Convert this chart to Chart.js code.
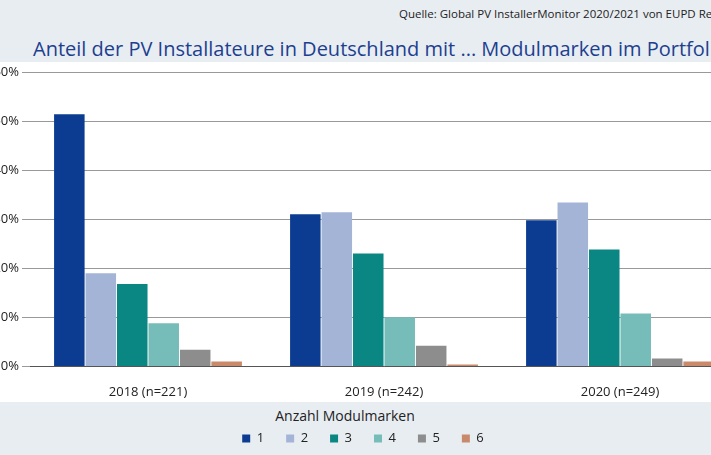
<!DOCTYPE html>
<html><head><meta charset="utf-8">
<script src="https://cdn.jsdelivr.net/npm/chart.js@4"></script>
<style>
body{margin:0;width:711px;height:455px;overflow:hidden;background:#e8edf2;font-family:"Open Sans",sans-serif;position:relative}
#src{position:absolute;top:6px;left:399px;white-space:nowrap;font-size:11.5px;color:#222}
#title{position:absolute;top:35px;left:33px;white-space:nowrap;font-size:20px;color:#1d3f8f}
#white{position:absolute;top:62px;left:0;width:711px;height:340px;background:#fff}
#lt{position:absolute;top:406px;left:0;width:690px;text-align:center;font-size:14px;color:#222}
#wrap{position:absolute;top:60px;left:-12px;width:750px;height:395px}
</style></head><body>
<div id="white"></div>
<div id="src">Quelle: Global PV InstallerMonitor 2020/2021 von EUPD Research</div>
<div id="title">Anteil der PV Installateure in Deutschland mit ... Modulmarken im Portfolio</div>
<div id="lt">Anzahl Modulmarken</div>
<div id="wrap"><canvas id="c"></canvas></div>
<script>
const categories=["2018 (n=221)","2019 (n=242)","2020 (n=249)"];
const seriesNames=["1","2","3","4","5","6"];
const s1=[51.4,31,29.8];
const s2=[19,31.4,33.4];
const s3=[16.8,23,23.8];
const s4=[8.8,10,10.8];
const s5=[3.4,4.2,1.6];
const s6=[1,0.4,1];
const colors=["#0b3c91","#a4b4d7","#0b8783","#76bdb9","#8d8d8d","#c98a6c"];
const vals=[s1,s2,s3,s4,s5,s6];
new Chart(document.getElementById('c'),{type:'bar',
data:{labels:categories,datasets:vals.map((d,i)=>({label:seriesNames[i],data:d,backgroundColor:colors[i],categoryPercentage:0.8,barPercentage:0.97}))},
options:{responsive:true,maintainAspectRatio:false,animation:false,
layout:{padding:{top:12,right:0,bottom:0}},
plugins:{tooltip:{enabled:false},
legend:{position:'bottom',
labels:{boxWidth:8,boxHeight:8,color:'#222',font:{size:13,family:'Open Sans'},padding:22}}},
scales:{x:{grid:{display:false},border:{color:'#555'},ticks:{padding:10,color:'#222',font:{size:13,family:'Open Sans'}}},
y:{min:0,max:60,afterFit:s=>{s.width=42},ticks:{stepSize:10,callback:v=>v+'%',color:'#222',font:{size:13,family:'Open Sans'}},grid:{color:'#999'},border:{display:false}}}}});
</script></body></html>
